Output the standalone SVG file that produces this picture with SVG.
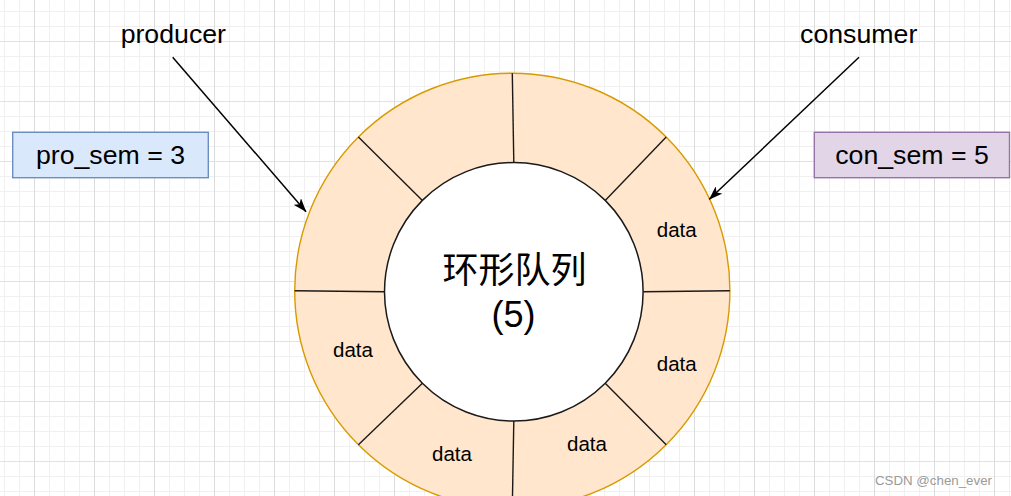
<svg xmlns="http://www.w3.org/2000/svg" width="1011" height="496" viewBox="0 0 1011 496">
  <style>
    .lbl { font-family: "Liberation Sans", Arial, sans-serif; font-size: 26.7px; fill: #000; text-anchor: middle; }
    .data { font-family: "Liberation Sans", Arial, sans-serif; font-size: 20.5px; fill: #000; text-anchor: middle; }
    .center { font-family: "Liberation Sans", "Noto Sans CJK SC", sans-serif; font-size: 36px; fill: #000; text-anchor: middle; }
    .div { stroke: #1a1a1a; stroke-width: 1.4; fill: none; }
    .conn { stroke: #000; stroke-width: 1.5; fill: none; }
    .wm { font-family: "Liberation Sans", Arial, sans-serif; font-size: 13.3px; fill: #9a9a9a; }
  </style>
  <defs>
    <pattern id="grid" patternUnits="userSpaceOnUse" x="34" y="41" width="60" height="60">
      <rect x="0" y="0" width="60" height="60" fill="#ffffff"/>
      <rect x="15" y="0" width="1" height="60" fill="#f0f0f0"/>
      <rect x="30" y="0" width="1" height="60" fill="#f0f0f0"/>
      <rect x="45" y="0" width="1" height="60" fill="#f0f0f0"/>
      <rect x="0" y="15" width="60" height="1" fill="#f0f0f0"/>
      <rect x="0" y="30" width="60" height="1" fill="#f0f0f0"/>
      <rect x="0" y="45" width="60" height="1" fill="#f0f0f0"/>
      <rect x="0" y="0" width="1" height="60" fill="#dcdcdc"/>
      <rect x="0" y="0" width="60" height="1" fill="#e2e2e2"/>
    </pattern>
    <marker id="arrow" viewBox="0 0 14 10" refX="13.5" refY="5" markerWidth="14" markerHeight="10" markerUnits="userSpaceOnUse" orient="auto">
      <path d="M0,0 L14,5 L0,10 L3.5,5 Z" fill="#000"/>
    </marker>
  </defs>

  <rect x="0" y="0" width="1011" height="496" fill="url(#grid)"/>

  <g id="ring">
    <circle cx="512.3" cy="290.8" r="217.6" fill="#ffe6cc" stroke="#d79b00" stroke-width="1.4"/>
    <line class="div" x1="512.3" y1="73.2" x2="513.8" y2="162.5"/>
    <line class="div" x1="729.9" y1="290.8" x2="643.1" y2="291.8"/>
    <line class="div" x1="294.7" y1="290.8" x2="384.5" y2="291.8"/>
    <line class="div" x1="512.3" y1="508.4" x2="513.8" y2="421.1"/>
    <line class="div" x1="358.4" y1="136.9" x2="422.4" y2="200.4"/>
    <line class="div" x1="666.2" y1="136.9" x2="605.2" y2="200.4"/>
    <line class="div" x1="358.4" y1="444.7" x2="422.4" y2="383.2"/>
    <line class="div" x1="666.2" y1="444.7" x2="605.2" y2="383.2"/>
    <text class="data" x="676.7" y="236.7">data</text>
    <text class="data" x="676.7" y="370.7">data</text>
    <text class="data" x="353" y="356.7">data</text>
    <text class="data" x="452" y="461">data</text>
    <text class="data" x="587" y="450.7">data</text>
  </g>

  <g id="queue">
    <circle cx="513.8" cy="291.8" r="129.3" fill="#ffffff" stroke="#1a1a1a" stroke-width="1.5"/>
    <text class="center" x="514.5" y="283">环形队列</text>
    <text class="center" x="513.5" y="327">(5)</text>
  </g>

  <g id="producer">
    <text class="lbl" x="173.3" y="43">producer</text>
  </g>
  <g id="consumer">
    <text class="lbl" x="858.7" y="43">consumer</text>
  </g>

  <g id="pro_sem">
    <rect x="12.7" y="132.3" width="195.6" height="45.4" fill="#dae8fc" stroke="#6c8ebf" stroke-width="1.4"/>
    <text class="lbl" x="110.5" y="163.5">pro_sem = 3</text>
  </g>
  <g id="con_sem">
    <rect x="814.3" y="132.3" width="195.2" height="45.4" fill="#e1d5e7" stroke="#9673a6" stroke-width="1.4"/>
    <text class="lbl" x="912" y="163.5">con_sem = 5</text>
  </g>

  <g id="connectors">
    <line class="conn" x1="172.7" y1="57.3" x2="306" y2="211.7" marker-end="url(#arrow)"/>
    <line class="conn" x1="859" y1="57.3" x2="709.3" y2="199.3" marker-end="url(#arrow)"/>
  </g>

  <text class="wm" x="875" y="485">CSDN @chen_ever</text>
</svg>
